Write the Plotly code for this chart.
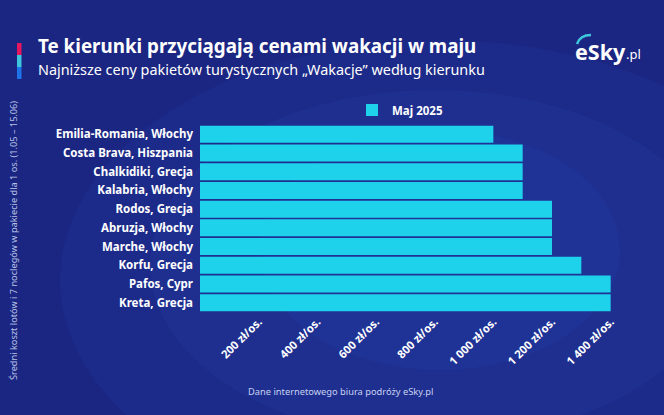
import plotly.graph_objects as go

categories = ["Emilia-Romania, Włochy", "Costa Brava, Hiszpania", "Chalkidiki, Grecja",
              "Kalabria, Włochy", "Rodos, Grecja", "Abruzja, Włochy", "Marche, Włochy",
              "Korfu, Grecja", "Pafos, Cypr", "Kreta, Grecja"]
prices = [1000, 1100, 1100, 1100, 1200, 1200, 1200, 1300, 1400, 1400]
series_name = "Maj 2025"
tick_values = [200, 400, 600, 800, 1000, 1200, 1400]
tick_labels = ["200 zł/os.", "400 zł/os.", "600 zł/os.", "800 zł/os.",
               "1 000 zł/os.", "1 200 zł/os.", "1 400 zł/os."]

W, H = 664, 415
L, R, T, B = 200, 24, 125, 103
PW, PH = W - L - R, H - T - B

def px(x):
    return (x - L) / PW

def py(y):
    return (H - B - y) / PH

FONT = "Noto Sans"
BAR = "#1fd2ec"

fig = go.Figure()
fig.add_trace(go.Bar(
    y=categories, x=prices, orientation="h", name=series_name,
    marker=dict(color=BAR, line=dict(width=0)),
    showlegend=True,
))

fig.update_layout(
    width=W, height=H,
    margin=dict(l=L, r=R, t=T, b=B),
    paper_bgcolor="#1b2682",
    plot_bgcolor="rgba(0,0,0,0)",
    bargap=0.09,
    font=dict(family=FONT, color="white"),
    xaxis=dict(range=[0, 1500], tickvals=tick_values, ticktext=tick_labels,
               tickangle=-45, showgrid=False, zeroline=False, showline=False,
               ticks="", tickfont=dict(size=11.3, color="white", family=FONT, weight="bold")),
    yaxis=dict(categoryorder="array", categoryarray=categories, autorange="reversed",
               showgrid=False, zeroline=False, showline=False, ticks="",
               ticklabelstandoff=6,
               tickfont=dict(size=11.5, color="white", family=FONT, weight="bold")),
    legend=dict(orientation="h", x=px(352), y=py(110), xanchor="left", yanchor="middle",
                bgcolor="rgba(0,0,0,0)",
                font=dict(size=11.5, color="white", family=FONT, weight="bold")),
)

shapes = []
# soft background glow
for (x0, x1, y0, y1, a) in [(60, 820, 520, 40, 0.12), (150, 720, 440, 90, 0.14),
                            (260, 620, 370, 130, 0.14)]:
    shapes.append(dict(type="circle", xref="paper", yref="paper", layer="below",
                       x0=px(x0), x1=px(x1), y0=py(y1), y1=py(y0),
                       fillcolor="rgba(40,75,190,{})".format(a), line=dict(width=0)))
# title accent bars
for (y0, y1, c) in [(43, 55, "#e5175f"), (55, 67, "#3ec6dc"), (67, 79, "#1f73e8")]:
    shapes.append(dict(type="rect", xref="paper", yref="paper",
                       x0=px(17), x1=px(21.5), y0=py(y1), y1=py(y0),
                       fillcolor=c, line=dict(width=0)))
# logo arc above "e"
shapes.append(dict(type="path", xref="paper", yref="paper",
                   path="M {} {} Q {} {} {} {}".format(px(577), py(44), px(580), py(35), px(591), py(35)),
                   line=dict(color="#3ec6dc", width=2.5)))
fig.update_layout(shapes=shapes)

ann = []
ann.append(dict(text="<b>Te kierunki przyciągają cenami wakacji w maju</b>",
                xref="paper", yref="paper", x=px(36), y=py(46), xanchor="left", yanchor="middle",
                showarrow=False, font=dict(size=18.8, color="white", family=FONT)))
ann.append(dict(text="Najniższe ceny pakietów turystycznych „Wakacje” według kierunku",
                xref="paper", yref="paper", x=px(36), y=py(69.5), xanchor="left", yanchor="middle",
                showarrow=False, font=dict(size=14.4, color="white", family=FONT)))
ann.append(dict(text="<b>eSky</b>", xref="paper", yref="paper", x=px(573), y=py(51),
                xanchor="left", yanchor="middle", showarrow=False,
                font=dict(size=21.5, color="white", family=FONT)))
ann.append(dict(text=".pl", xref="paper", yref="paper", x=px(624), y=py(54),
                xanchor="left", yanchor="middle", showarrow=False,
                font=dict(size=13, color="white", family=FONT)))
ann.append(dict(text="Średni koszt lotów i 7 noclegów w pakiecie dla 1 os. (1.05 – 15.06)",
                xref="paper", yref="paper", x=px(13), y=py(241), xanchor="center", yanchor="middle",
                textangle=-90, showarrow=False, font=dict(size=9.2, color="#b9c2e6", family=FONT)))
ann.append(dict(text="Dane internetowego biura podróży eSky.pl",
                xref="paper", yref="paper", x=px(246), y=py(391), xanchor="left", yanchor="middle",
                showarrow=False, font=dict(size=9.3, color="#c9d1f2", family=FONT)))
fig.update_layout(annotations=ann)

fig.write_html("out.html", config={"displayModeBar": False},
               post_script="document.body.style.margin='0';document.body.style.background='#1b2682';")
